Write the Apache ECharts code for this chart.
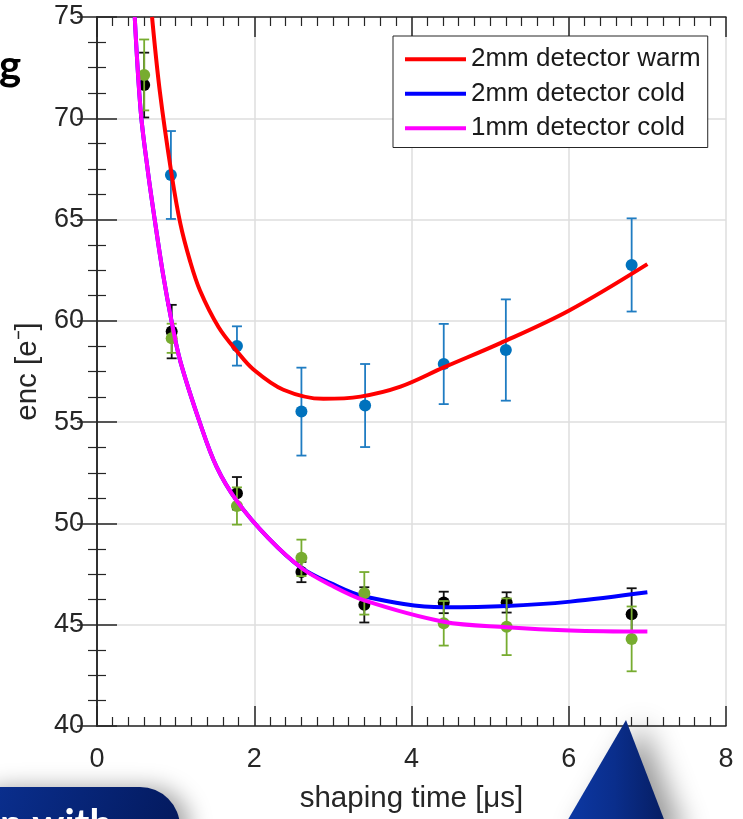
<!DOCTYPE html>
<html>
<head>
<meta charset="utf-8">
<script src="https://cdn.jsdelivr.net/npm/echarts@6/dist/echarts.min.js"></script>
<style>
html,body{margin:0;padding:0;background:#fff;}
#chart{width:743px;height:819px;}
</style>
</head>
<body>
<div id="chart"></div>
<script>
// ---- data ----
const seriesNames = ['2mm detector warm', '2mm detector cold', '1mm detector cold'];
const xTicks = [0, 2, 4, 6, 8];
const yTicks = [40, 45, 50, 55, 60, 65, 70, 75];

// measured points (shaping time, enc, error)
const warmX   = [0.94, 1.78, 2.60, 3.41, 4.41, 5.20, 6.80];
const warmY   = [67.2, 58.76, 55.52, 55.82, 57.87, 58.56, 62.76];
const warmErr = [2.17, 0.97, 2.17, 2.05, 1.98, 2.50, 2.30];

const cold2X   = [0.60, 0.95, 1.78, 2.60, 3.40, 4.41, 5.21, 6.80];
const cold2Y   = [71.64, 59.47, 51.49, 47.60, 45.98, 46.10, 46.10, 45.52];
const cold2Err = [1.60, 1.32, 0.80, 0.50, 0.87, 0.53, 0.50, 1.28];

const cold1X   = [0.60, 0.95, 1.78, 2.60, 3.40, 4.41, 5.21, 6.80];
const cold1Y   = [72.14, 59.14, 50.86, 48.30, 46.55, 45.07, 44.90, 44.30];
const cold1Err = [1.75, 0.72, 0.92, 0.90, 1.05, 1.10, 1.40, 1.60];

// fit curves
const warmFitX = [0.70, 0.80, 0.95, 1.06, 1.18, 1.31, 1.545, 1.78, 1.99, 2.37, 2.88, 3.35, 3.86, 4.41, 5.13, 6.00, 7.00];
const warmFitY = [75.0, 71.3, 67.2, 64.8, 63.0, 61.5, 59.7, 58.5, 57.6, 56.6, 56.15, 56.26, 56.75, 57.7, 58.9, 60.5, 62.8];

const cold2FitX = [0.48, 0.557, 0.65, 0.73, 0.84, 0.95, 1.06, 1.31, 1.52, 1.78, 2.18, 2.60, 2.97, 3.40, 4.41, 5.21, 6.02, 7.00];
const cold2FitY = [75.0, 70.3, 67.3, 65.1, 62.3, 59.95, 58.0, 54.95, 52.8, 51.1, 49.27, 47.8, 47.05, 46.39, 45.86, 45.92, 46.14, 46.6];

const cold1FitX = [0.48, 0.557, 0.65, 0.73, 0.84, 0.95, 1.06, 1.31, 1.52, 1.78, 2.18, 2.60, 2.97, 3.40, 4.41, 5.21, 6.02, 7.00];
const cold1FitY = [75.0, 70.3, 67.3, 65.1, 62.3, 59.95, 58.0, 54.95, 52.8, 51.1, 49.27, 47.8, 46.96, 46.2, 45.15, 44.88, 44.72, 44.66];

// ---- build chart ----
const zip = (xs, ys) => xs.map((x, i) => [x, ys[i]]);
const zip3 = (xs, ys, es) => xs.map((x, i) => [x, ys[i], es[i]]);

const FONT = 'Liberation Sans';
const AX = '#262626';

function errRender(color) {
  return function (params, api) {
    const x = api.value(0), y = api.value(1), e = api.value(2);
    const t = api.coord([x, y + e]);
    const b = api.coord([x, y - e]);
    const w = 5;
    const st = { stroke: color, lineWidth: 1.8 };
    return {
      type: 'group',
      children: [
        { type: 'line', shape: { x1: t[0], y1: t[1], x2: b[0], y2: b[1] }, style: st },
        { type: 'line', shape: { x1: t[0] - w, y1: t[1], x2: t[0] + w, y2: t[1] }, style: st },
        { type: 'line', shape: { x1: b[0] - w, y1: b[1], x2: b[0] + w, y2: b[1] }, style: st }
      ]
    };
  };
}

const commonAxis = {
  axisLine: { show: true, lineStyle: { color: AX, width: 1.5 } },
  axisTick: { show: true, inside: true, length: 20, lineStyle: { color: AX, width: 1.5 } },
  minorTick: { show: true, length: 9, lineStyle: { color: AX, width: 1.2 } },
  minorSplitLine: { show: false }
};

const chart = echarts.init(document.getElementById('chart'), null, { renderer: 'canvas' });

const option = {
  animation: false,
  backgroundColor: '#ffffff',
  textStyle: { fontFamily: FONT },
  grid: { left: 97, right: 17, top: 17, bottom: 93, containLabel: false },
  legend: {
    data: seriesNames.map(n => ({ name: n, icon: 'rect' })),
    orient: 'vertical',
    left: 393, top: 36,
    itemWidth: 61, itemHeight: 4, itemGap: 0,
    padding: [6, 7, 2, 12],
    backgroundColor: '#ffffff',
    borderColor: AX, borderWidth: 1,
    textStyle: { fontSize: 26, color: '#1a1a1a', fontFamily: FONT, lineHeight: 34.5 }
  },
  xAxis: [
    Object.assign({}, commonAxis, {
      type: 'value', min: xTicks[0], max: xTicks[xTicks.length - 1], interval: 2,
      position: 'bottom',
      minorTick: Object.assign({}, commonAxis.minorTick, { splitNumber: 10 }),
      splitLine: { show: true, lineStyle: { color: '#dedede', width: 1.5 } },
      axisLabel: { fontSize: 27, color: AX, margin: 20, fontFamily: FONT },
      name: 'shaping time [μs]', nameLocation: 'middle', nameGap: 58,
      nameTextStyle: { fontSize: 29.5, color: AX, fontFamily: FONT }
    }),
    Object.assign({}, commonAxis, {
      type: 'value', min: xTicks[0], max: xTicks[xTicks.length - 1], interval: 2,
      position: 'top',
      minorTick: Object.assign({}, commonAxis.minorTick, { splitNumber: 10 }),
      splitLine: { show: false },
      axisLabel: { show: false }
    })
  ],
  yAxis: [
    Object.assign({}, commonAxis, {
      type: 'value', min: yTicks[0], max: yTicks[yTicks.length - 1], interval: 5,
      position: 'left',
      minorTick: Object.assign({}, commonAxis.minorTick, { splitNumber: 4 }),
      splitLine: { show: true, lineStyle: { color: '#dedede', width: 1.5 } },
      axisLabel: { fontSize: 27, color: AX, margin: 13, fontFamily: FONT },
      name: 'enc [e⁻]', nameLocation: 'middle', nameGap: 42, nameRotate: 90,
      nameTextStyle: { fontSize: 29.5, color: AX, fontFamily: FONT }
    }),
    Object.assign({}, commonAxis, {
      type: 'value', min: yTicks[0], max: yTicks[yTicks.length - 1], interval: 5,
      position: 'right',
      minorTick: Object.assign({}, commonAxis.minorTick, { splitNumber: 4 }),
      splitLine: { show: false },
      axisLabel: { show: false }
    })
  ],
  series: [
    { name: 'warmErr', type: 'custom', renderItem: errRender('#1f7cc2'), data: zip3(warmX, warmY, warmErr), z: 3, silent: true },
    { name: 'warmPts', type: 'scatter', data: zip(warmX, warmY), symbolSize: 12, itemStyle: { color: '#0072BD', opacity: 1 }, z: 4 },
    { name: seriesNames[0], type: 'line', data: zip(warmFitX, warmFitY), showSymbol: false, symbol: 'none',
      smooth: 0.35, itemStyle: { color: '#ff0000' }, lineStyle: { color: '#ff0000', width: 4 }, z: 5 },

    { name: 'cold2Err', type: 'custom', renderItem: errRender('#111111'), data: zip3(cold2X, cold2Y, cold2Err), z: 6, silent: true },
    { name: 'cold2Pts', type: 'scatter', data: zip(cold2X, cold2Y), symbolSize: 12, itemStyle: { color: '#000000', opacity: 1 }, z: 7 },
    { name: seriesNames[1], type: 'line', data: zip(cold2FitX, cold2FitY), showSymbol: false, symbol: 'none',
      smooth: 0.35, itemStyle: { color: '#0000ff' }, lineStyle: { color: '#0000ff', width: 4 }, z: 8 },

    { name: 'cold1Err', type: 'custom', renderItem: errRender('#77AC30'), data: zip3(cold1X, cold1Y, cold1Err), z: 9, silent: true },
    { name: 'cold1Pts', type: 'scatter', data: zip(cold1X, cold1Y), symbolSize: 12, itemStyle: { color: '#77AC30', opacity: 1 }, z: 10 },
    { name: seriesNames[2], type: 'line', data: zip(cold1FitX, cold1FitY), showSymbol: false, symbol: 'none',
      smooth: 0.35, itemStyle: { color: '#ff00ff' }, lineStyle: { color: '#ff00ff', width: 4 }, z: 11 }
  ],
  graphic: [
    { type: 'text', left: -1, top: 45, z: 100,
      style: { text: 'g', font: 'bold 42px Lato', fill: '#000' } },
    { type: 'rect', z: 100,
      shape: { x: -40, y: 787, width: 220, height: 80, r: 45 },
      style: {
        fill: new echarts.graphic.LinearGradient(0, 0, 1, 1, [
          { offset: 0, color: '#0b3296' }, { offset: 1, color: '#03185a' }
        ]),
        shadowBlur: 22, shadowColor: 'rgba(0,0,0,0.35)', shadowOffsetX: 10, shadowOffsetY: 0
      } },
    { type: 'text', z: 101, left: 0, top: 805,
      style: { text: 'n with', font: 'bold 40px Lato', fill: '#ffffff' } },
    { type: 'polygon', z: 100,
      shape: { points: [[626, 720], [559, 835], [670, 835]] },
      style: {
        fill: new echarts.graphic.LinearGradient(0, 0, 1, 0, [
          { offset: 0, color: '#0d3aa8' }, { offset: 0.5, color: '#0a2e8c' }, { offset: 1, color: '#061c5e' }
        ]),
        shadowBlur: 28, shadowColor: 'rgba(0,0,0,0.4)', shadowOffsetX: 16, shadowOffsetY: 4
      } }
  ]
};

chart.setOption(option);
</script>
</body>
</html>
